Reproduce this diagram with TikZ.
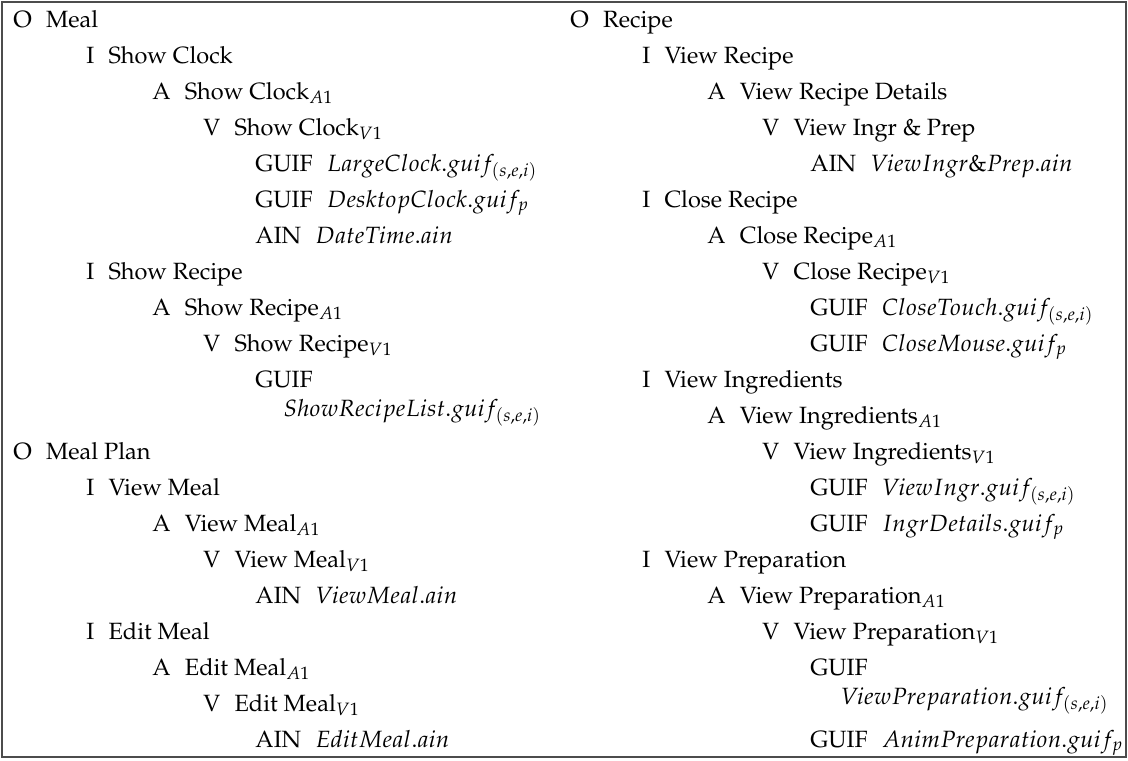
\documentclass[tikz,border=0pt]{standalone}
\usepackage[T1]{fontenc}
\usepackage{mathpazo}
\usepackage{amsmath}

\newcommand{\lvl}[2]{#1\hspace{6pt}#2}

\begin{document}
\begin{tikzpicture}[x=0.425pt, y=-0.425pt,
  item/.style={anchor=base west, inner sep=0pt}]

  \useasboundingbox (0,0) rectangle (1128,760);

  % Frame round both columns
  \draw[black!70, line width=0.5pt] (2,2) rectangle (1126,757);

  % Left column: Meal
  \node[item] (meal) at (13,27) {\lvl{O}{Meal}};
  \node[item] (showclock) at (86,63) {\lvl{I}{Show Clock}};
  \node[item] (showclocka) at (152,99) {\lvl{A}{Show Clock$_{A1}$}};
  \node[item] (showclockv) at (203,135) {\lvl{V}{Show Clock$_{V1}$}};
  \node[item] (largeclock) at (255,171) {\lvl{GUIF}{$LargeClock.guif_{(s,e,i)}$}};
  \node[item] (desktopclock) at (255,207) {\lvl{GUIF}{$DesktopClock.guif_p$}};
  \node[item] (datetime) at (255,243) {\lvl{AIN}{$DateTime.ain$}};
  \node[item] (showrecipe) at (86,279) {\lvl{I}{Show Recipe}};
  \node[item] (showrecipea) at (152,315) {\lvl{A}{Show Recipe$_{A1}$}};
  \node[item] (showrecipev) at (203,351) {\lvl{V}{Show Recipe$_{V1}$}};
  \node[item] (showrecipeg) at (255,387) {GUIF};
  \node[item] (recipelist) at (283,416) {$ShowRecipeList.guif_{(s,e,i)}$};

  % Left column: Meal Plan
  \node[item] (mealplan) at (13,459) {\lvl{O}{Meal Plan}};
  \node[item] (viewmeal) at (86,495) {\lvl{I}{View Meal}};
  \node[item] (viewmeala) at (152,531) {\lvl{A}{View Meal$_{A1}$}};
  \node[item] (viewmealv) at (203,567) {\lvl{V}{View Meal$_{V1}$}};
  \node[item] (viewmealain) at (255,603) {\lvl{AIN}{$ViewMeal.ain$}};
  \node[item] (editmeal) at (86,639) {\lvl{I}{Edit Meal}};
  \node[item] (editmeala) at (152,675) {\lvl{A}{Edit Meal$_{A1}$}};
  \node[item] (editmealv) at (203,711) {\lvl{V}{Edit Meal$_{V1}$}};
  \node[item] (editmealain) at (255,747) {\lvl{AIN}{$EditMeal.ain$}};

  % Right column: Recipe
  \node[item] (recipe) at (570,27) {\lvl{O}{Recipe}};
  \node[item] (viewrecipe) at (642,63) {\lvl{I}{View Recipe}};
  \node[item] (viewrecipea) at (707,99) {\lvl{A}{View Recipe Details}};
  \node[item] (viewrecipev) at (762,135) {\lvl{V}{View Ingr \& Prep}};
  \node[item] (viewrecipeain) at (810,171) {\lvl{AIN}{$ViewIngr\&Prep.ain$}};
  \node[item] (closerecipe) at (642,207) {\lvl{I}{Close Recipe}};
  \node[item] (closerecipea) at (707,243) {\lvl{A}{Close Recipe$_{A1}$}};
  \node[item] (closerecipev) at (762,279) {\lvl{V}{Close Recipe$_{V1}$}};
  \node[item] (closetouch) at (810,315) {\lvl{GUIF}{$CloseTouch.guif_{(s,e,i)}$}};
  \node[item] (closemouse) at (810,351) {\lvl{GUIF}{$CloseMouse.guif_p$}};
  \node[item] (viewingr) at (642,387) {\lvl{I}{View Ingredients}};
  \node[item] (viewingra) at (707,423) {\lvl{A}{View Ingredients$_{A1}$}};
  \node[item] (viewingrv) at (762,459) {\lvl{V}{View Ingredients$_{V1}$}};
  \node[item] (viewingrg) at (810,495) {\lvl{GUIF}{$ViewIngr.guif_{(s,e,i)}$}};
  \node[item] (ingrdetails) at (810,531) {\lvl{GUIF}{$IngrDetails.guif_p$}};
  \node[item] (viewprep) at (642,567) {\lvl{I}{View Preparation}};
  \node[item] (viewprepa) at (707,603) {\lvl{A}{View Preparation$_{A1}$}};
  \node[item] (viewprepv) at (762,639) {\lvl{V}{View Preparation$_{V1}$}};
  \node[item] (viewprepg) at (810,675) {GUIF};
  \node[item] (viewpreplist) at (840,704) {$ViewPreparation.guif_{(s,e,i)}$};
  \node[item] (animprep) at (810,747) {\lvl{GUIF}{$AnimPreparation.guif_p$}};

\end{tikzpicture}
\end{document}
